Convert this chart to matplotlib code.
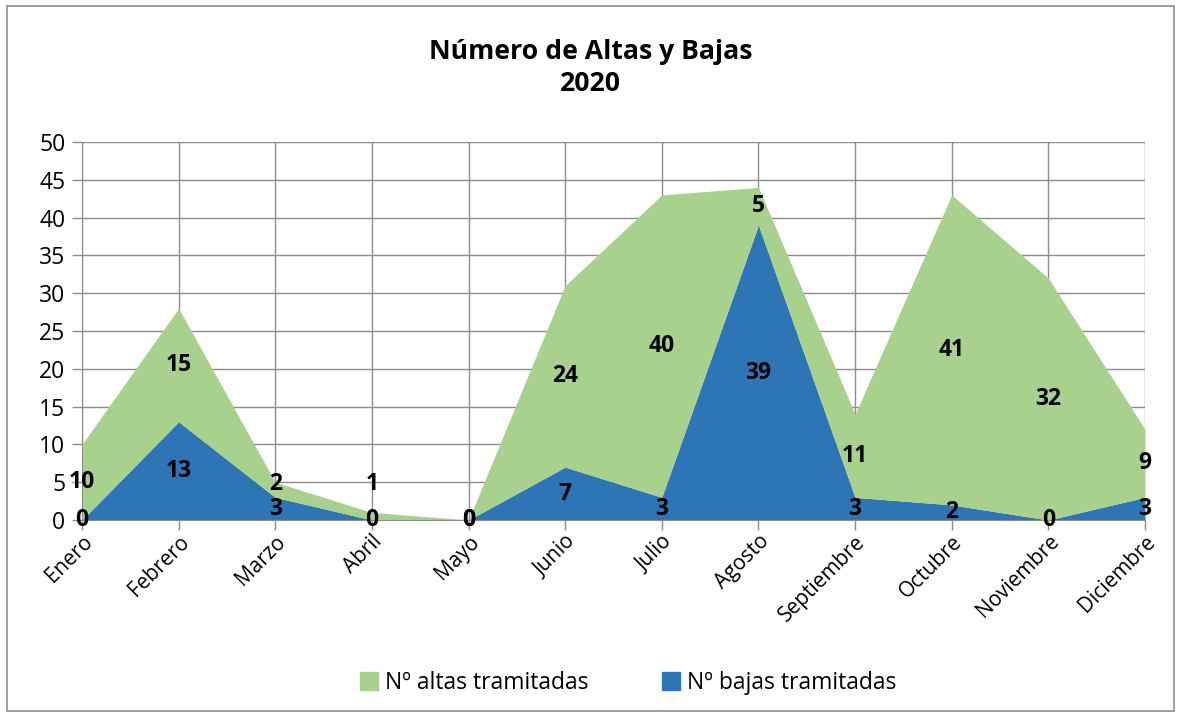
import matplotlib.pyplot as plt
from matplotlib.patches import Rectangle, Patch

plt.rcParams['font.family'] = ['Open Sans', 'DejaVu Sans']

meses = ['Enero', 'Febrero', 'Marzo', 'Abril', 'Mayo', 'Junio', 'Julio',
         'Agosto', 'Septiembre', 'Octubre', 'Noviembre', 'Diciembre']
bajas = [0, 13, 3, 0, 0, 7, 3, 39, 3, 2, 0, 3]
altas = [10, 15, 2, 1, 0, 24, 40, 5, 11, 41, 32, 9]

verde = '#A9D18E'
azul = '#2E75B6'
gris = '#8C8C8C'

fig = plt.figure(figsize=(11.81, 7.13), dpi=100)
ax = fig.add_axes([0.0694, 0.2707, 0.9001, 0.5301])

x = list(range(len(meses)))
total = [a + b for a, b in zip(altas, bajas)]
ax.fill_between(x, 0, bajas, color=azul, lw=0, zorder=2)
ax.fill_between(x, bajas, total, color=verde, lw=0, zorder=2)

# etiquetas de datos en el centro de cada franja
for i in x:
    ax.text(i, bajas[i] / 2, str(bajas[i]), ha='center', va='center',
            fontsize=16.5, fontweight='bold', zorder=4)
    ya = bajas[i] + altas[i] / 2
    if 0 < altas[i] < 3:
        ya = max(ya, 4.8)  # que no se monte con la de bajas
    ax.text(i, ya, str(altas[i]), ha='center', va='center',
            fontsize=16.5, fontweight='bold', zorder=4)

ax.set_xlim(0, 11)
ax.set_ylim(0, 50)
ax.set_yticks(range(0, 51, 5))
ax.set_xticks(x)
ax.set_xticklabels(meses, rotation=45, ha='right', rotation_mode='anchor')
ax.tick_params(axis='both', color=gris, length=7, width=1)
ax.tick_params(axis='x', labelsize=15, pad=1)
ax.tick_params(axis='y', labelsize=16.5, pad=5)
ax.grid(True, color=gris, lw=1, zorder=1)
ax.set_axisbelow(True)
for s in ['top', 'right']:
    ax.spines[s].set_visible(False)
for s in ['left', 'bottom']:
    ax.spines[s].set_color(gris)
    ax.spines[s].set_zorder(3)

fig.text(0.5, 0.905, 'Número de Altas y Bajas\n2020', ha='center', va='center',
         fontsize=19.2, fontweight='bold', linespacing=1.3)

handles = [Patch(color=verde), Patch(color=azul)]
fig.legend(handles, ['Nº altas tramitadas', 'Nº bajas tramitadas'],
           loc='center', bbox_to_anchor=(0.532, 0.042), ncol=2, frameon=False,
           fontsize=16.5, handlelength=0.8, handleheight=0.8, handletextpad=0.3,
           columnspacing=3.2)

fig.patches.append(Rectangle((0.006, 0.003), 0.988, 0.988, transform=fig.transFigure,
                             fill=False, edgecolor=gris, lw=1.2))

fig.savefig('out.png', dpi=100)
